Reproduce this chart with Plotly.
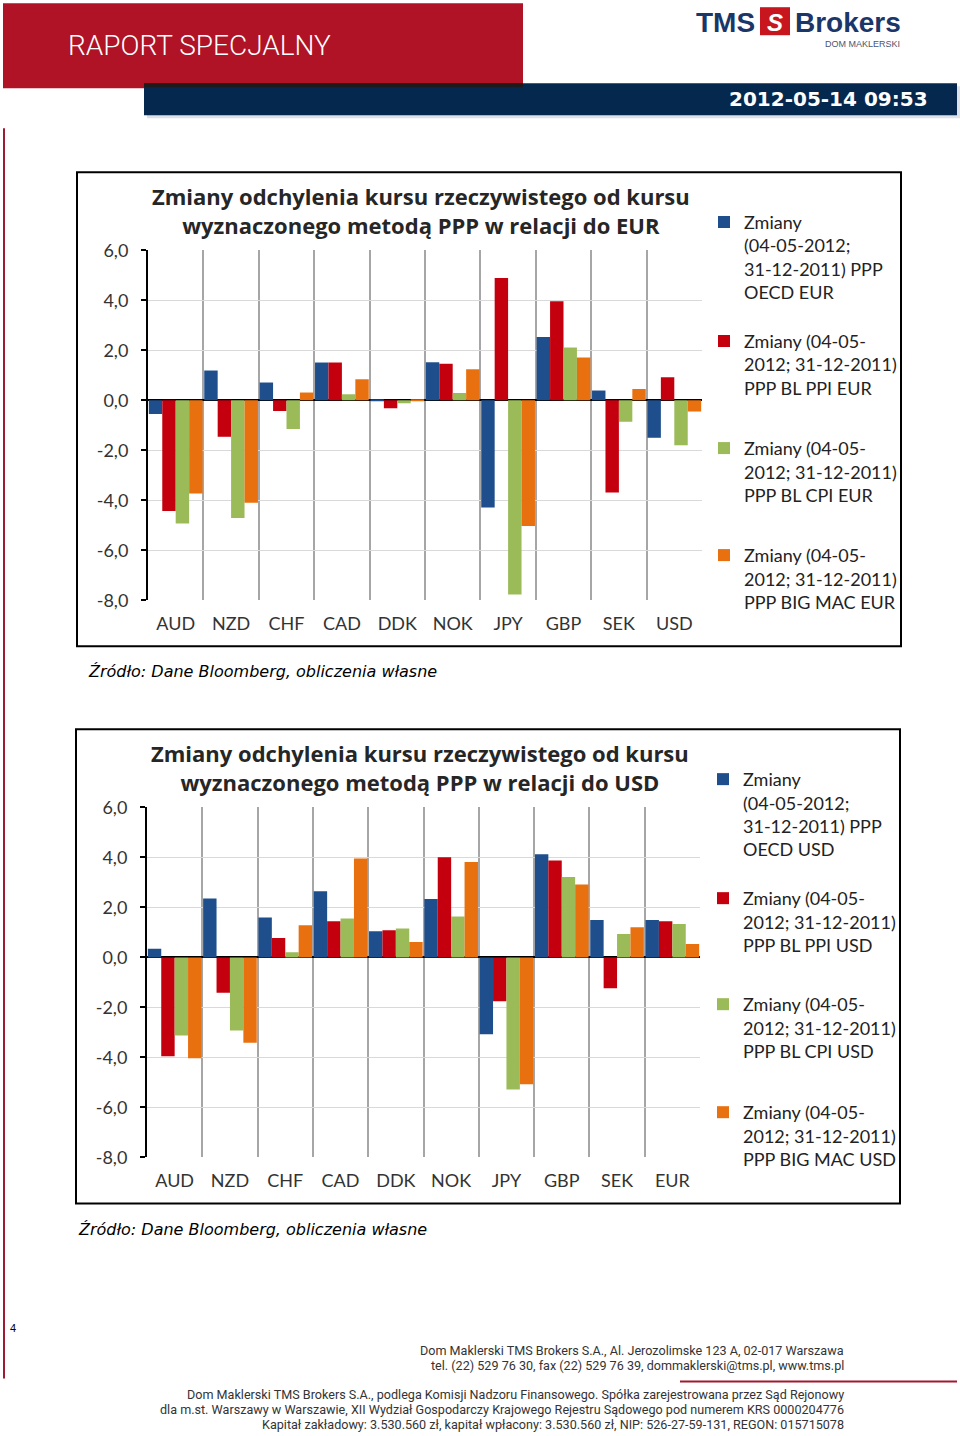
import plotly.graph_objects as go

W, H = 960, 1436

# ---------------- data ----------------
categories_eur = ["AUD", "NZD", "CHF", "CAD", "DDK", "NOK", "JPY", "GBP", "SEK", "USD"]
categories_usd = ["AUD", "NZD", "CHF", "CAD", "DDK", "NOK", "JPY", "GBP", "SEK", "EUR"]

eur_oecd   = [-0.55, 1.19, 0.71, 1.51, 0.01, 1.52, -4.29, 2.53, 0.39, -1.50]
eur_bl_ppi = [-4.43, -1.46, -0.43, 1.51, -0.32, 1.46, 4.89, 3.96, -3.69, 0.92]
eur_bl_cpi = [-4.93, -4.71, -1.15, 0.24, -0.12, 0.29, -7.77, 2.11, -0.86, -1.80]
eur_bigmac = [-3.73, -4.10, 0.31, 0.84, 0.03, 1.24, -5.03, 1.71, 0.45, -0.45]

usd_oecd   = [0.35, 2.35, 1.59, 2.64, 1.04, 2.33, -3.07, 4.12, 1.49, 1.49]
usd_bl_ppi = [-3.95, -1.41, 0.77, 1.44, 1.08, 4.00, -1.75, 3.87, -1.23, 1.44]
usd_bl_cpi = [-3.12, -2.92, 0.21, 1.55, 1.15, 1.63, -5.28, 3.21, 0.93, 1.33]
usd_bigmac = [-4.03, -3.41, 1.28, 3.95, 0.61, 3.81, -5.07, 2.91, 1.20, 0.53]

names_eur = [
    "Zmiany<br>(04-05-2012;<br>31-12-2011) PPP<br>OECD EUR",
    "Zmiany (04-05-<br>2012; 31-12-2011)<br>PPP BL PPI EUR",
    "Zmiany (04-05-<br>2012; 31-12-2011)<br>PPP BL CPI EUR",
    "Zmiany (04-05-<br>2012; 31-12-2011)<br>PPP BIG MAC EUR",
]
names_usd = [
    "Zmiany<br>(04-05-2012;<br>31-12-2011) PPP<br>OECD USD",
    "Zmiany (04-05-<br>2012; 31-12-2011)<br>PPP BL PPI USD",
    "Zmiany (04-05-<br>2012; 31-12-2011)<br>PPP BL CPI USD",
    "Zmiany (04-05-<br>2012; 31-12-2011)<br>PPP BIG MAC USD",
]

title_eur = "Zmiany odchylenia kursu rzeczywistego od kursu<br>wyznaczonego metodą PPP w relacji do EUR"
title_usd = "Zmiany odchylenia kursu rzeczywistego od kursu<br>wyznaczonego metodą PPP w relacji do USD"
source_text = "Źródło: Dane Bloomberg, obliczenia własne"

y_range = [-8, 6]
y_ticks = [-8, -6, -4, -2, 0, 2, 4, 6]
y_ticktext = [("%.1f" % v).replace(".", ",") for v in y_ticks]

colors = ["#1F4E8C", "#C4000F", "#9BBB59", "#E8700F"]

footer_top = [
    "Dom Maklerski TMS Brokers S.A., Al. Jerozolimske 123 A, 02-017 Warszawa",
    "tel. (22) 529 76 30, fax (22) 529 76 39, dommaklerski@tms.pl, www.tms.pl",
]
footer_bottom = [
    "Dom Maklerski TMS Brokers S.A., podlega Komisji Nadzoru Finansowego. Spółka zarejestrowana przez Sąd Rejonowy",
    "dla m.st. Warszawy w Warszawie, XII Wydział Gospodarczy Krajowego Rejestru Sądowego pod numerem KRS 0000204776",
    "Kapitał zakładowy: 3.530.560 zł, kapitał wpłacony: 3.530.560 zł, NIP: 526-27-59-131, REGON: 015715078",
]

# ---------------- helpers ----------------
# the photographed page maps figure pixel y to picture y as 0.9845*y + 11.8
SC, OFF = 0.9845, 11.8

def px(x):
    return x / W

def py(y):
    yf = (y - OFF) / SC
    return 1 - yf / H

FONT = "Lato, 'Open Sans', sans-serif"
TXT = "#333333"

fig = go.Figure()

series_eur = [eur_oecd, eur_bl_ppi, eur_bl_cpi, eur_bigmac]
series_usd = [usd_oecd, usd_bl_ppi, usd_bl_cpi, usd_bigmac]

legend_ids = ["legend", "legend2", "legend3", "legend4",
              "legend5", "legend6", "legend7", "legend8"]

for i, (vals, nm) in enumerate(zip(series_eur, names_eur)):
    fig.add_trace(go.Bar(x=categories_eur, y=vals, name=nm, marker_color=colors[i],
                         marker_line_width=0, xaxis="x", yaxis="y",
                         legend=legend_ids[i]))
for i, (vals, nm) in enumerate(zip(series_usd, names_usd)):
    fig.add_trace(go.Bar(x=categories_usd, y=vals, name=nm, marker_color=colors[i],
                         marker_line_width=0, xaxis="x2", yaxis="y2",
                         legend=legend_ids[4 + i]))

dom_y1 = [py(600), py(250)]
dom_y2 = [py(1157), py(807)]

def xax(domain, anchor):
    return dict(domain=domain, anchor=anchor, type="category",
                tickson="boundaries", showgrid=True, gridcolor="#A6A6A6", gridwidth=2,
                ticks="", showline=False, zeroline=False,
                tickfont=dict(family=FONT, size=18, color=TXT),
                ticklabelstandoff=11, fixedrange=True)

def yax(domain, anchor):
    return dict(domain=domain, anchor=anchor, range=y_range, tickvals=y_ticks,
                ticktext=y_ticktext, showgrid=True, gridcolor="#D9D9D9", gridwidth=1,
                showline=True, linecolor="black", linewidth=2,
                ticks="outside", ticklen=5, tickwidth=2, tickcolor="black",
                zeroline=True, zerolinecolor="black", zerolinewidth=2,
                tickfont=dict(family=FONT, size=18, color=TXT),
                ticklabelstandoff=9, fixedrange=True)

def zero_pos(dom):
    return dom[0] + (0 - y_range[0]) / (y_range[1] - y_range[0]) * (dom[1] - dom[0])

leg_common = dict(xanchor="left", yanchor="top", valign="top",
                  itemwidth=30, bgcolor="rgba(0,0,0,0)",
                  font=dict(family=FONT, size=18, color="#222222"))

# first-line centre of each legend entry in the page, minus the text offset
legend_first_lines = [222, 341, 448, 555, 779, 898, 1004, 1112]
legend_x = [704, 704, 704, 704, 703, 703, 703, 703]
legend_layout = {}
for lid, yl, xl in zip(legend_ids, legend_first_lines, legend_x):
    legend_layout[lid] = dict(x=px(xl), y=py(yl - 18.4), **leg_common)

fig.update_layout(
    width=W, height=H, margin=dict(l=0, r=0, t=0, b=0),
    paper_bgcolor="white", plot_bgcolor="white",
    barmode="group", bargap=0.03, bargroupgap=0,
    showlegend=True,
    xaxis=xax([px(148), px(702)], "y"),
    yaxis=yax(dom_y1, "x"),
    xaxis2=xax([px(147), px(700)], "y2"),
    yaxis2=yax(dom_y2, "x2"),
    xaxis3=dict(matches="x", overlaying="x", anchor="free", position=zero_pos(dom_y1),
                type="category", tickson="boundaries", ticks="outside", ticklen=4,
                tickwidth=2, tickcolor="black", showticklabels=False, showgrid=False,
                showline=False, zeroline=False),
    xaxis4=dict(matches="x2", overlaying="x2", anchor="free", position=zero_pos(dom_y2),
                type="category", tickson="boundaries", ticks="outside", ticklen=4,
                tickwidth=2, tickcolor="black", showticklabels=False, showgrid=False,
                showline=False, zeroline=False),
    **legend_layout,
)

shapes = []
def rect(x0, x1, y0, y1, fill, layer="below"):
    shapes.append(dict(type="rect", xref="paper", yref="paper", x0=px(x0), x1=px(x1),
                       y0=py(y1), y1=py(y0), fillcolor=fill, line_width=0, layer=layer))

# header
rect(3, 523, 3, 88, "#B01226")
rect(147, 960, 86, 118, "rgba(120,140,170,0.25)")
rect(144, 957, 83, 115, "#05284F")
rect(144, 523, 83, 87, "#1E1A1C")
rect(760, 790, 7, 35, "#C8161E")
# left page line
shapes.append(dict(type="line", xref="paper", yref="paper", x0=px(4), x1=px(4), y0=py(1378), y1=py(128),
                   line=dict(color="#9E1B32", width=2)))
# footer line
shapes.append(dict(type="line", xref="paper", yref="paper", x0=px(680), x1=px(957), y0=py(1381), y1=py(1381),
                   line=dict(color="#A01A2E", width=2)))
# chart frames
shapes.append(dict(type="rect", xref="paper", yref="paper", x0=px(77), x1=px(901), y0=py(646), y1=py(172),
                   line=dict(color="black", width=2), fillcolor="rgba(0,0,0,0)", layer="below"))
shapes.append(dict(type="rect", xref="paper", yref="paper", x0=px(76), x1=px(900), y0=py(1203), y1=py(729),
                   line=dict(color="black", width=2), fillcolor="rgba(0,0,0,0)", layer="below"))
fig.update_layout(shapes=shapes)

ann = []
def add_text(text, x, y, xanchor="left", yanchor="middle", size=12, color="black",
             family=FONT, align="left", weight=None):
    f = dict(family=family, size=size, color=color)
    if weight is not None:
        f["weight"] = weight
    ann.append(dict(text=text, x=px(x), y=py(y), xref="paper", yref="paper", showarrow=False,
                    xanchor=xanchor, yanchor=yanchor, align=align, font=f))

add_text("RAPORT SPECJALNY", 66, 45, size=28, color="white",
         family="Roboto, sans-serif", weight=300)
add_text("<b>2012-05-14 09:53</b>", 930, 99, xanchor="right", size=20, color="white",
         family="'DejaVu Sans', sans-serif")
add_text("<b>TMS</b>", 757, 22, xanchor="right", size=28, color="#1B3668",
         family="'Liberation Sans', Arial, sans-serif")
add_text("<b><i>S</i></b>", 775, 22, xanchor="center", size=24, color="white",
         family="'Liberation Sans', Arial, sans-serif")
add_text("<b>Brokers</b>", 793, 22, xanchor="left", size=28, color="#1B3668",
         family="'Liberation Sans', Arial, sans-serif")
add_text("DOM MAKLERSKI", 902, 44, xanchor="right", size=9, color="#4A5670",
         family="'Liberation Sans', Arial, sans-serif")

add_text("<b>" + title_eur + "</b>", 421, 210, xanchor="center", size=22, color="#262626",
         align="center", family="'Open Sans', sans-serif")
add_text("<b>" + title_usd + "</b>", 420, 767, xanchor="center", size=22, color="#262626",
         align="center", family="'Open Sans', sans-serif")

add_text("<i>" + source_text + "</i>", 86, 671, size=16, color="black",
         family="'DejaVu Sans', Verdana, sans-serif")
add_text("<i>" + source_text + "</i>", 76, 1229, size=16, color="black",
         family="'DejaVu Sans', Verdana, sans-serif")

add_text("4", 8, 1328, size=11, color="black", family="'Liberation Sans', Arial, sans-serif")

FOOT = "'Liberation Sans Narrow', 'Roboto', sans-serif"
for i, t in enumerate(footer_top):
    add_text(t, 846, 1350 + 15 * i, xanchor="right", size=12.6, color="#333333", family=FOOT)
for i, t in enumerate(footer_bottom):
    add_text(t, 846, 1394 + 15 * i, xanchor="right", size=12.6, color="#333333", family=FOOT)

fig.update_layout(annotations=ann)

post = ("document.body.style.margin='0px';"
        "var gd=document.getElementById('{plot_id}');"
        "gd.style.position='absolute';gd.style.top='0px';gd.style.left='0px';")

fig.write_html("out.html", config={"displayModeBar": False}, post_script=post)
